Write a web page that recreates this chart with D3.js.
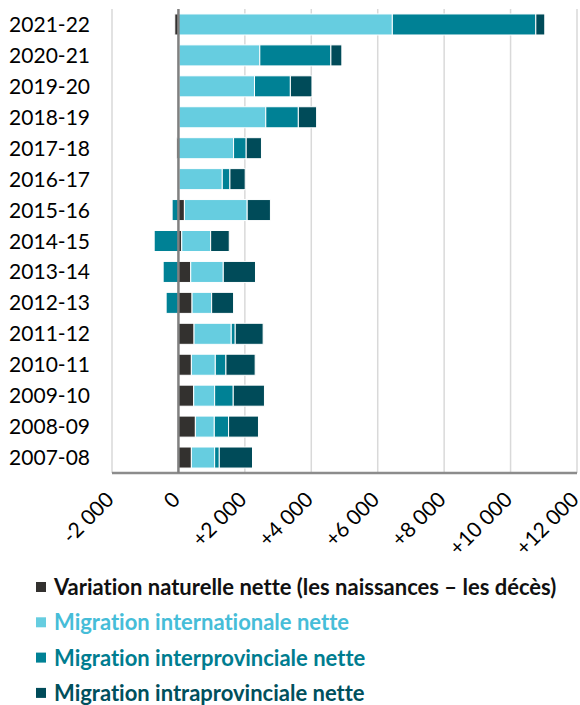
<!DOCTYPE html>
<meta charset="utf-8">
<style>
  body { margin: 0; background: #fff; }
  text { font-family: Lato, "Open Sans", sans-serif; font-variant-ligatures: none; }
</style>
<svg width="580" height="705"></svg>
<script src="https://d3js.org/d3.v7.min.js"></script>
<script>

var years = ["2007-08", "2008-09", "2009-10", "2010-11", "2011-12", "2012-13", "2013-14",
  "2014-15", "2015-16", "2016-17", "2017-18", "2018-19", "2019-20", "2020-21", "2021-22"];

// net change by component, same order as years
var naturel = [390, 510, 460, 390, 470, 410, 370, 100, 180, 20, -50, 20, 20, 20, -110];
var international = [700, 570, 630, 720, 1120, 590, 980, 870, 1890, 1300, 1660, 2610, 2270, 2430, 6440];
var interprov = [140, 430, 560, 320, 120, -370, -460, -730, -190, 230, 380, 980, 1080, 2140, 4320];
var intraprov = [1000, 900, 940, 880, 840, 660, 970, 560, 700, 460, 460, 550, 650, 330, 270];

var xTicks = [-2000, 0, 2000, 4000, 6000, 8000, 10000, 12000];

var keys = ["naturel", "international", "interprov", "intraprov"];
var labels = ["Variation naturelle nette (les naissances \u2013 les décès)",
  "Migration internationale nette",
  "Migration interprovinciale nette",
  "Migration intraprovinciale nette"];
var colors = ["#33312f", "#66cde0", "#008195", "#004b59"];
var textColors = ["#111111", "#46bdd8", "#007d90", "#00505d"];

var rows = years.map(function(y, i) {
  return {year: y, naturel: naturel[i], international: international[i],
    interprov: interprov[i], intraprov: intraprov[i]};
});

var svg = d3.select("svg"),
    margin = {top: 9, right: 3, bottom: 232, left: 112},
    width = +svg.attr("width") - margin.left - margin.right,
    height = +svg.attr("height") - margin.top - margin.bottom,
    g = svg.append("g").attr("transform", "translate(" + margin.left + "," + margin.top + ")");

var x = d3.scaleLinear()
    .domain([-2000, 12000])
    .range([0, 465]);

var y = d3.scaleBand()
    .domain(years.slice().reverse())
    .range([0, height])
    .paddingInner(0.32)
    .paddingOuter(0.16);

var series = d3.stack()
    .keys(keys)
    .offset(d3.stackOffsetDiverging)(rows);

// grid
g.append("g")
  .selectAll("line")
  .data(xTicks.filter(function(d) { return d !== 0; }))
  .enter().append("line")
    .attr("x1", function(d) { return x(d); })
    .attr("x2", function(d) { return x(d); })
    .attr("y1", 0)
    .attr("y2", height)
    .attr("stroke", "#d9d9d9")
    .attr("stroke-width", 1.5);

g.append("g")
  .selectAll("g")
  .data(series)
  .enter().append("g")
    .attr("fill", function(d, i) { return colors[i]; })
  .selectAll("rect")
  .data(function(d) { return d; })
  .enter().append("rect")
    .attr("x", function(d) { return x(Math.min(d[0], d[1])); })
    .attr("width", function(d) { return Math.abs(x(d[1]) - x(d[0])); })
    .attr("y", function(d) { return y(d.data.year); })
    .attr("height", y.bandwidth())
    .attr("stroke", "#fff")
    .attr("stroke-width", 1);

// bottom axis line and zero line
g.append("line")
    .attr("x1", 0).attr("x2", width)
    .attr("y1", height).attr("y2", height)
    .attr("stroke", "#8c8c8c")
    .attr("stroke-width", 2.5);

g.append("line")
    .attr("x1", x(0)).attr("x2", x(0))
    .attr("y1", 0).attr("y2", height)
    .attr("stroke", "#808080")
    .attr("stroke-width", 2.5);

// x tick labels
g.append("g")
  .selectAll("text")
  .data(xTicks)
  .enter().append("text")
    .attr("transform", function(d) { return "translate(" + (x(d) + 3) + "," + (height + 28) + ") rotate(-45)"; })
    .attr("text-anchor", "end")
    .attr("font-size", 21)
    .attr("fill", "#000")
    .text(function(d) {
      var s = d3.format(",")(Math.abs(d)).replace(/,/g, " ");
      if (d > 0) return "+" + s;
      if (d < 0) return "-" + s;
      return s;
    });

// y labels
g.append("g")
  .selectAll("text")
  .data(years)
  .enter().append("text")
    .attr("x", -22)
    .attr("y", function(d) { return y(d) + y.bandwidth() / 2; })
    .attr("dy", "0.36em")
    .attr("text-anchor", "end")
    .attr("font-size", 21)
    .attr("fill", "#000")
    .text(function(d) { return d; });

// legend
var legend = svg.append("g")
    .attr("transform", "translate(36,587)")
  .selectAll("g")
  .data(labels)
  .enter().append("g")
    .attr("transform", function(d, i) { return "translate(0," + (i * 35.3) + ")"; });

legend.append("rect")
    .attr("x", 0).attr("y", -5)
    .attr("width", 10).attr("height", 10)
    .attr("fill", function(d, i) { return colors[i]; });

legend.append("text")
    .attr("x", 18)
    .attr("dy", "0.36em")
    .attr("font-size", 22)
    .attr("font-weight", "bold")
    .attr("fill", function(d, i) { return textColors[i]; })
    .text(function(d) { return d; });

</script>
